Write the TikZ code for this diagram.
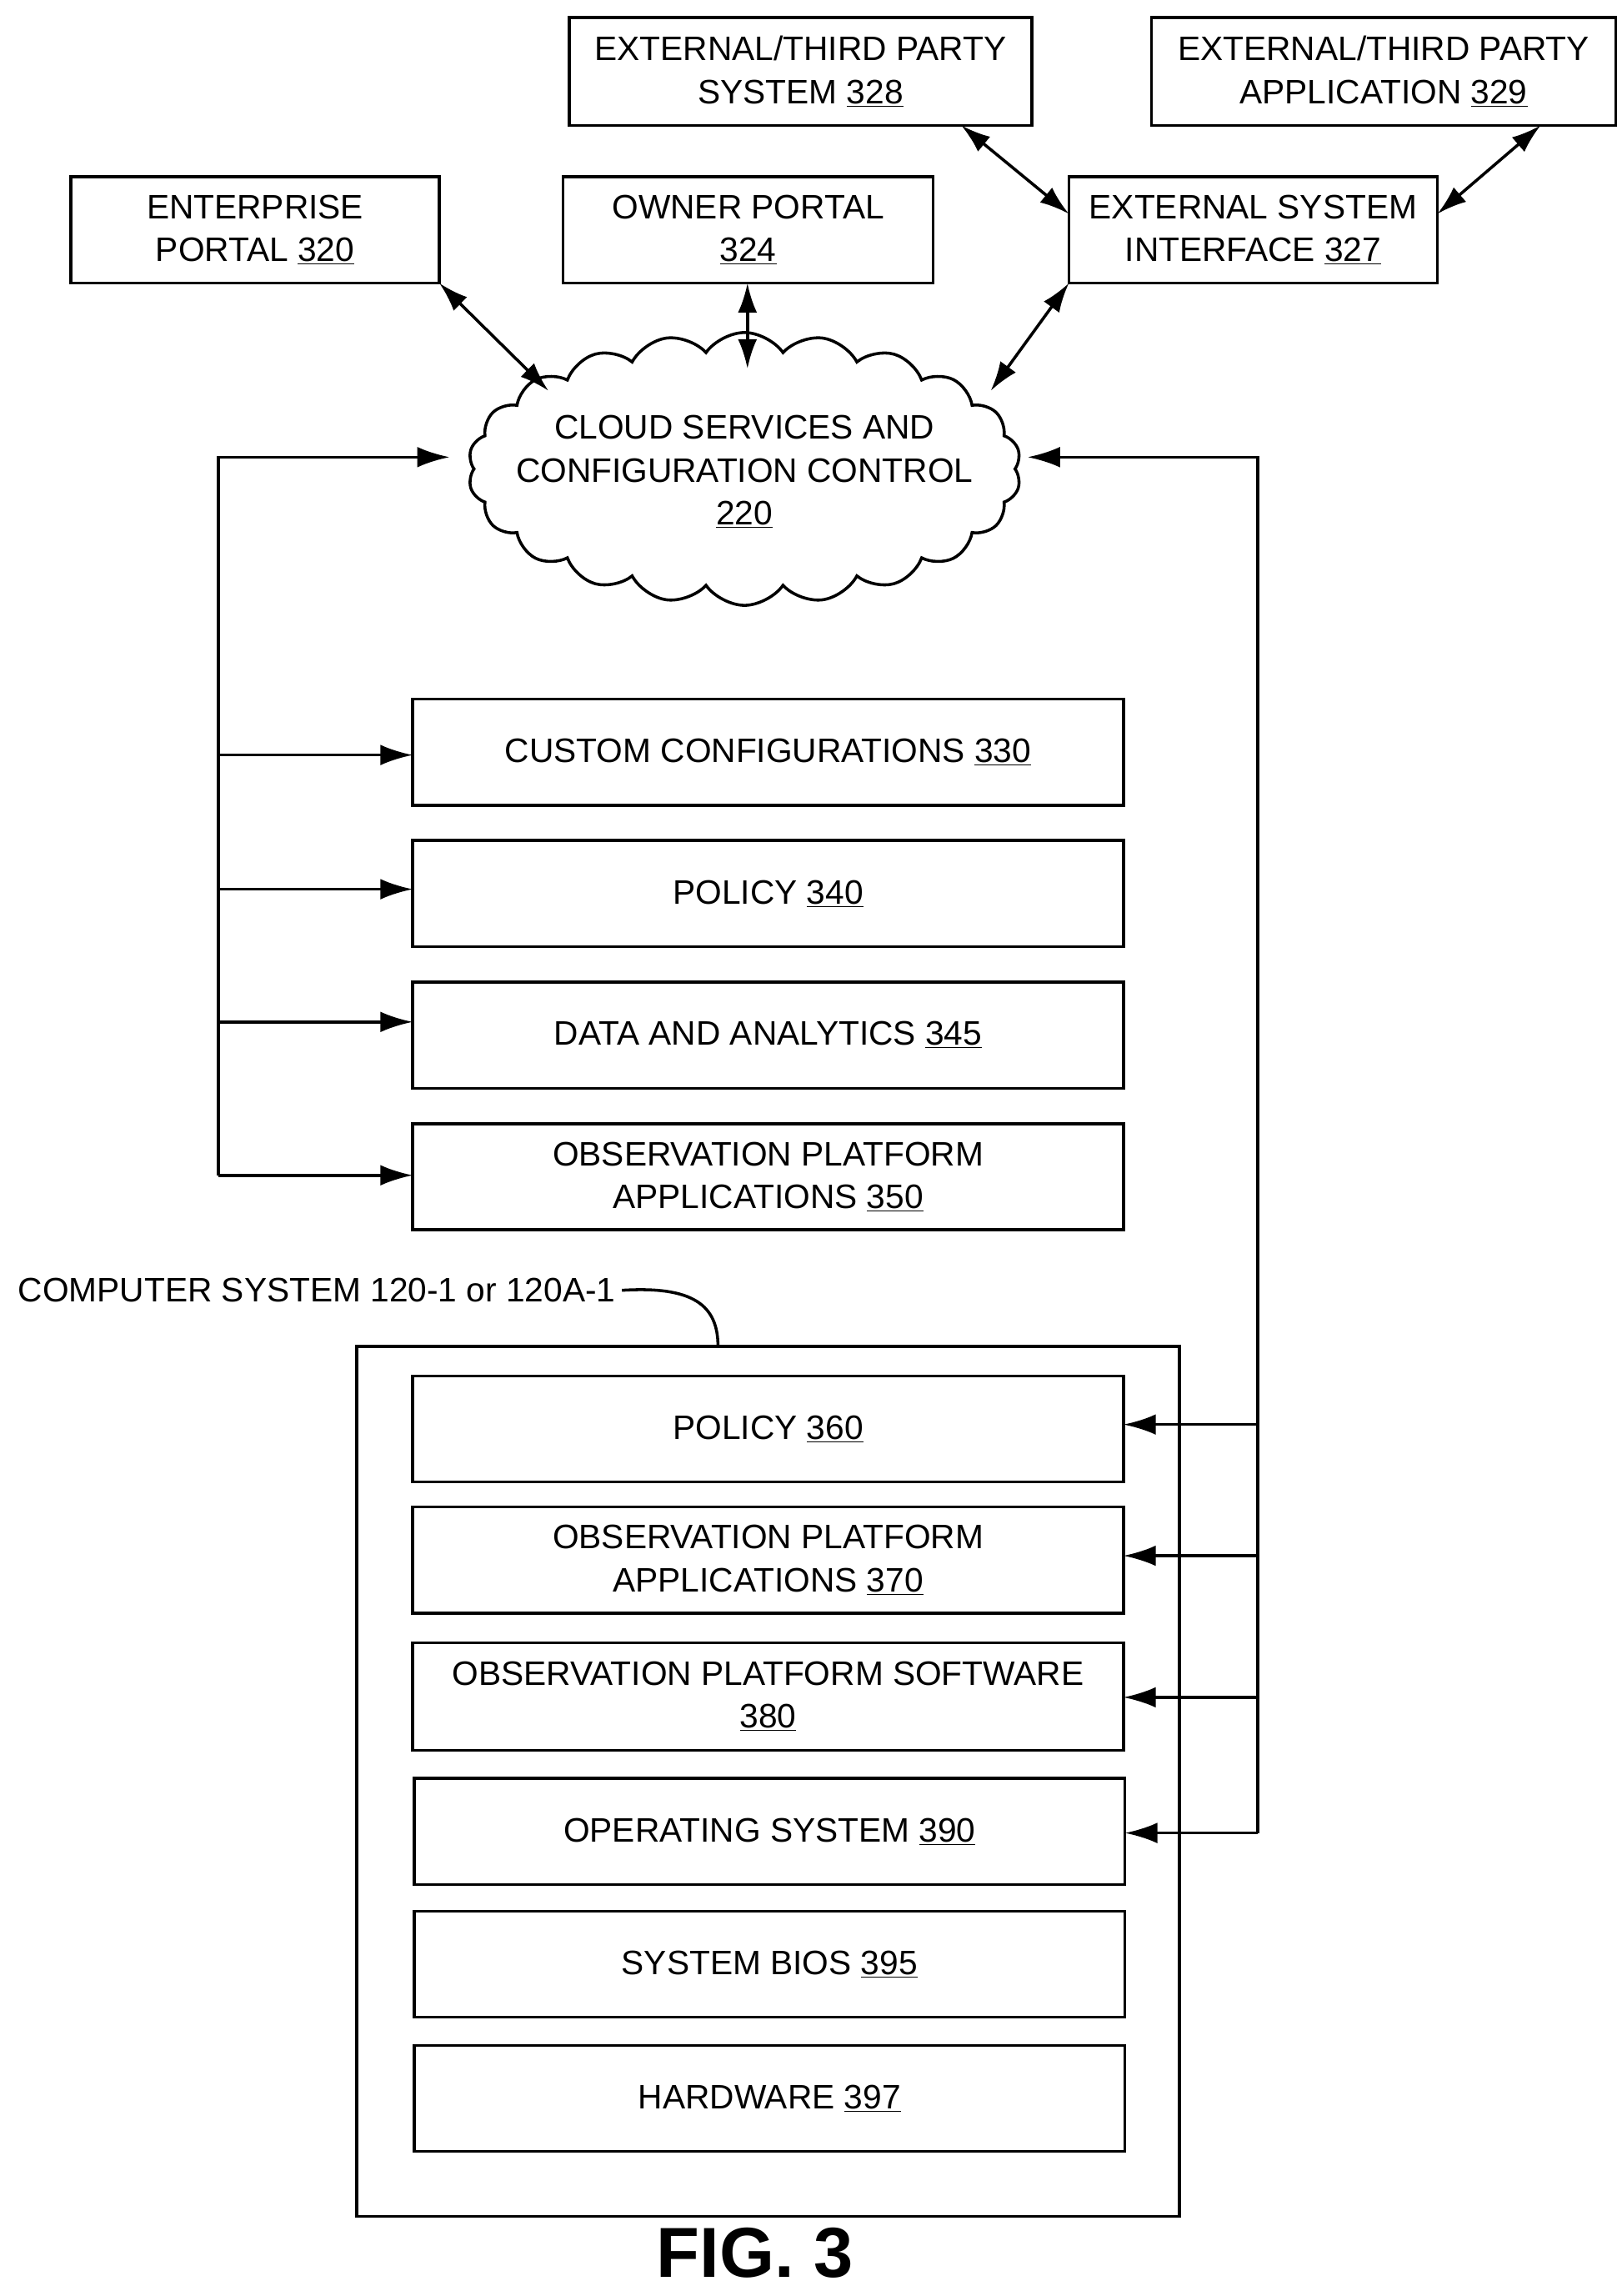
\documentclass[tikz,border=0pt]{standalone}
\usepackage{fontspec}
\setmainfont{Liberation Sans}
\usetikzlibrary{shapes.symbols,arrows.meta}
\begin{document}
\begin{tikzpicture}[x=1pt,y=-1pt,line width=2pt,
  arr/.style={-{Latex[length=22pt,width=14pt]}},
  darr/.style={{Latex[length=20pt,width=13pt]}-{Latex[length=20pt,width=13pt]}},
  lbl/.style={font=\fontsize{23}{29}\selectfont,align=center}]
\useasboundingbox (0,0) rectangle (1100,1557);
\newcommand{\un}[1]{\underline{#1}}
% boxes
\draw (386,12) rectangle (700,85) node[lbl,midway] (e328) {EXTERNAL/THIRD PARTY\\SYSTEM \un{328}};
\draw (781,12) rectangle (1096,85) node[lbl,midway] (e329) {EXTERNAL/THIRD PARTY\\APPLICATION \un{329}};
\draw (48,120) rectangle (298,192) node[lbl,midway] (e320) {ENTERPRISE\\PORTAL \un{320}};
\draw (382,120) rectangle (633,192) node[lbl,midway] (o324) {OWNER PORTAL\\\un{324}};
\draw (725,120) rectangle (975,192) node[lbl,midway] (i327) {EXTERNAL SYSTEM\\INTERFACE \un{327}};
\node[draw,cloud,cloud puffs=22,cloud puff arc=110,aspect=2.2,minimum width=375pt,minimum height=185pt,inner sep=0pt] (cloud) at (505,318) {};
\node[lbl] (ctext) at (505,320) {CLOUD SERVICES AND\\CONFIGURATION CONTROL\\\un{220}};
\draw (280,474) rectangle (762,546) node[lbl,midway] (b330) {CUSTOM CONFIGURATIONS \un{330}};
\draw (280,570) rectangle (762,642) node[lbl,midway] (b340) {POLICY \un{340}};
\draw (280,666) rectangle (762,738) node[lbl,midway] (b345) {DATA AND ANALYTICS \un{345}};
\draw (280,762) rectangle (762,834) node[lbl,midway] (b350) {OBSERVATION PLATFORM\\APPLICATIONS \un{350}};
\draw (242,913) rectangle (800,1503);
\draw (280,933) rectangle (762,1005) node[lbl,midway] (b360) {POLICY \un{360}};
\draw (280,1022) rectangle (762,1094) node[lbl,midway] (b370) {OBSERVATION PLATFORM\\APPLICATIONS \un{370}};
\draw (280,1114) rectangle (762,1187) node[lbl,midway] (b380) {OBSERVATION PLATFORM SOFTWARE\\\un{380}};
\draw (281,1206) rectangle (763,1278) node[lbl,midway] (b390) {OPERATING SYSTEM \un{390}};
\draw (281,1296) rectangle (763,1368) node[lbl,midway] (b395) {SYSTEM BIOS \un{395}};
\draw (281,1387) rectangle (763,1459) node[lbl,midway] (b397) {HARDWARE \un{397}};
\node[lbl,anchor=west] (cs) at (8,875) {COMPUTER SYSTEM 120-1 or 120A-1};
\node[font=\fontsize{48}{56}\bfseries] (fig) at (512,1528) {FIG. 3};
\draw (cs.east) .. controls (470,872) and (487,885) .. (487,913);
% double arrows
\draw[darr] (298,192) -- (372,265);
\draw[darr] (507,192) -- (507,250);
\draw[darr] (725,192) -- (672,265);
\draw[darr] (652,85) -- (725,145);
\draw[darr] (1045,85) -- (975,145);
% left bus
\draw[arr] (148,797) -- (148,310) -- (305,310);
\foreach \y in {512,603,693,797} \draw[arr] (148,\y) -- (280,\y);
% right bus
\draw[arr] (853,1243) -- (853,310) -- (697,310);
\foreach \y in {966,1055,1151} \draw[arr] (853,\y) -- (762,\y);
\draw[arr] (853,1243) -- (763,1243);
\end{tikzpicture}
\end{document}
